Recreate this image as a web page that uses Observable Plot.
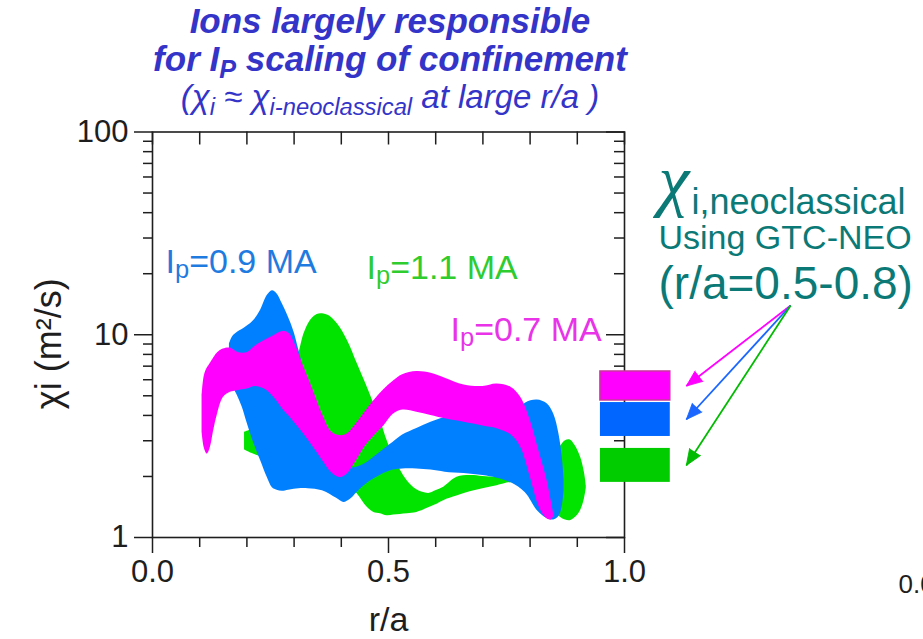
<!DOCTYPE html>
<html>
<head>
<meta charset="utf-8">
<script src="https://cdn.jsdelivr.net/npm/d3@7"></script>
<script src="https://cdn.jsdelivr.net/npm/@observablehq/plot@0.6"></script>
<style>
  html, body { margin: 0; padding: 0; background: #fff; overflow: hidden; width: 923px; height: 639px; }
  #wrap { position: relative; width: 923px; height: 639px; }
  .t { position: absolute; left: 0; width: 780px; text-align: center; font-family: "Liberation Sans", Arial, sans-serif;
       color: #3434c8; font-style: italic; line-height: 1; white-space: nowrap; }
  .t sub { vertical-align: baseline; position: relative; top: 0.28em; font-size: 72%; line-height: 0; }
  #t1 { top: 3px; font-size: 35px; font-weight: bold; }
  #t2 { top: 41px; font-size: 35px; font-weight: bold; }
  #t3 { top: 80px; font-size: 33px; font-weight: normal; }
</style>
</head>
<body>
<div id="wrap">
  <div class="t" id="t1">Ions largely responsible</div>
  <div class="t" id="t2">for I<sub>P</sub> scaling of confinement</div>
  <div class="t" id="t3">(χ<sub>i</sub> ≈ χ<sub>i-neoclassical</sub> at large r/a )</div>
</div>
<script>
// ---------------- data ----------------
// Ip = 0.7 MA (magenta band): r/a, lower and upper chi_i (m^2/s)
const magentaX  = [0.105,0.110,0.116,0.122,0.130,0.137,0.150,0.165,0.180,0.200,0.218,0.236,0.257,0.278,0.290,0.300,0.320,0.340,0.360,0.380,0.398,0.413,0.430,0.450,0.470,0.490,0.510,0.530,0.560,0.590,0.620,0.660,0.700,0.730,0.760,0.780,0.800,0.820,0.835,0.845,0.850];
const magentaHi = [5.0,6.3,6.85,7.2,7.7,8.1,8.5,8.6,8.2,8.15,8.8,9.35,9.9,10.4,10.1,9.2,7.0,5.35,4.05,3.3,3.18,3.25,3.6,4.15,4.75,5.35,5.9,6.35,6.58,6.45,6.1,5.65,5.56,5.72,5.5,4.92,3.8,2.6,1.95,1.5,1.3];
const magentaLo = [3.3,2.75,2.58,2.75,3.4,4.0,4.9,5.2,5.3,5.4,5.56,5.41,4.92,4.23,3.95,3.7,3.25,2.8,2.4,2.08,1.97,2.06,2.35,2.8,3.18,3.55,4.05,4.25,4.15,4.0,3.85,3.7,3.55,3.44,3.2,2.79,2.0,1.40,1.24,1.22,1.27];

// Ip = 0.9 MA (blue band)
const blueX  = [0.163,0.170,0.180,0.190,0.200,0.215,0.229,0.243,0.254,0.264,0.275,0.288,0.300,0.310,0.330,0.360,0.390,0.405,0.420,0.440,0.460,0.483,0.510,0.530,0.560,0.590,0.620,0.660,0.700,0.730,0.760,0.790,0.815,0.836,0.850,0.861,0.868,0.872];
const blueHi = [9.0,9.8,10.3,10.6,11.0,11.8,13.2,15.6,16.5,15.9,14.2,12.2,10.3,8.4,5.6,3.6,2.5,2.25,2.2,2.25,2.4,2.64,2.95,3.2,3.45,3.7,3.9,3.85,3.65,3.5,3.9,4.6,4.77,4.57,4.07,3.25,2.5,1.95];
const blueLo = [7.0,5.6,5.0,4.4,3.7,2.9,2.4,1.98,1.76,1.71,1.69,1.71,1.73,1.74,1.74,1.70,1.56,1.49,1.55,1.73,1.89,2.03,2.15,2.18,2.18,2.15,2.10,2.07,2.02,1.96,1.86,1.66,1.36,1.24,1.22,1.27,1.42,1.70];

// Ip = 1.1 MA (green band)
const greenX  = [0.195,0.210,0.230,0.250,0.280,0.300,0.312,0.321,0.335,0.349,0.360,0.374,0.392,0.413,0.434,0.455,0.469,0.483,0.497,0.511,0.525,0.540,0.560,0.585,0.600,0.617,0.645,0.673,0.700,0.730,0.765,0.800,0.830,0.850,0.864,0.875,0.885,0.895,0.907,0.915,0.919];
const greenHi = [3.3,3.4,3.5,3.8,5.0,6.8,8.4,10.1,11.8,12.6,12.7,12.4,11.3,9.37,7.19,5.51,4.57,3.78,3.01,2.5,2.15,1.9,1.72,1.65,1.7,1.77,1.98,2.02,2.0,1.98,1.95,1.95,2.1,2.4,2.8,3.0,3.03,2.85,2.49,2.1,1.8];
const greenLo = [2.7,2.6,2.5,2.45,2.35,2.3,2.27,2.25,2.2,2.15,2.1,2.05,1.98,1.85,1.64,1.41,1.33,1.31,1.28,1.29,1.30,1.31,1.33,1.40,1.45,1.52,1.60,1.68,1.74,1.80,1.87,1.80,1.55,1.35,1.26,1.22,1.21,1.25,1.36,1.55,1.75];

// neoclassical chi_i (GTC-NEO, r/a = 0.5-0.8) ranges
const neoSeries = ["0.7 MA", "0.9 MA", "1.1 MA"];
const neoLo = [4.74, 3.15, 1.87];
const neoHi = [6.59, 4.63, 2.75];

// axis ticks
const xMajor = [0, 0.5, 1.0];
const xMinor = [0.1, 0.2, 0.3, 0.4, 0.6, 0.7, 0.8, 0.9];
const yMajor = [1, 10, 100];
const yMinor = [2, 3, 4, 5, 6, 7, 8, 9, 20, 30, 40, 50, 60, 70, 80, 90];

// ---------------- styles ----------------
const bandColor = {"0.7 MA": "#ff00ff", "0.9 MA": "#0080ff", "1.1 MA": "#00e400"};
const boxColor  = {"0.7 MA": "#ff00ff", "0.9 MA": "#0066ff", "1.1 MA": "#00cc00"};
const arrowColor = {"0.7 MA": "#ff00ff", "0.9 MA": "#1a66ff", "1.1 MA": "#00bb00"};
const teal = "#0b7a77";
const axisColor = "#1e1e1e";
const font = '"Liberation Sans", Arial, sans-serif';

const W = 923, H = 639, mL = 152, mR = 299, mT = 131.5, mB = 102;
const FW = W - mL - mR, FH = H - mT - mB;

// annotation arrow geometry (in the chart's own x / y units, outside the frame)
const arrowFrom = {x: 1.352, y: 13.94};
const arrowToX = 1.131;
const boxX = [0.949, 1.097];

const band = (xs, lo, hi) => xs.map((x, i) => ({x, lo: lo[i], hi: hi[i]}));
const magenta = band(magentaX, magentaLo, magentaHi);
const blue = band(blueX, blueLo, blueHi);
const green = band(greenX, greenLo, greenHi);
const neo = neoSeries.map((s, i) => ({s, lo: neoLo[i], hi: neoHi[i], yc: Math.sqrt(neoLo[i] * neoHi[i])}));

const label = (txt, opts) => Plot.text([txt], {text: d => d, textAnchor: "start", lineAnchor: "bottom", ...opts});

const baseOptions = {
  width: W, height: H,
  marginLeft: mL, marginRight: mR, marginTop: mT, marginBottom: mB,
  style: {fontFamily: font, background: "transparent", overflow: "visible", color: axisColor},
  x: {domain: [0, 1], axis: null},
  y: {type: "log", domain: [1, 100], axis: null},
  color: {type: "identity"}
};

// first pass: only to obtain the scales for arrow-head angles
const probe = Plot.plot({...baseOptions, marks: [Plot.frame()]});
const sx = probe.scale("x"), sy = probe.scale("y");
const px0 = sx.apply(arrowFrom.x), py0 = sy.apply(arrowFrom.y);
neo.forEach(d => {
  const dxp = sx.apply(arrowToX) - px0, dyp = sy.apply(d.yc) - py0;
  d.angle = Math.atan2(dxp, -dyp) * 180 / Math.PI;
});

const headLen = 16;

const plot = Plot.plot({
  ...baseOptions,
  marks: [
    Plot.areaY(green,   {x: "x", y1: "lo", y2: "hi", fill: bandColor["1.1 MA"], curve: "catmull-rom"}),
    Plot.areaY(blue,    {x: "x", y1: "lo", y2: "hi", fill: bandColor["0.9 MA"], curve: "catmull-rom"}),
    Plot.areaY(magenta, {x: "x", y1: "lo", y2: "hi", fill: bandColor["0.7 MA"], curve: "catmull-rom"}),
    Plot.frame({stroke: axisColor, strokeWidth: 1.6}),
    // bottom axis
    Plot.axisX({ticks: xMajor, tickSize: 16, tickPadding: 6, tickFormat: d => d.toFixed(1), fontSize: 31, strokeWidth: 1.5, label: null}),
    Plot.tickX(xMinor, {x: d => d, insetTop: FH, insetBottom: -10, stroke: axisColor, strokeWidth: 1.5}),
    // top ticks (inward)
    Plot.tickX(xMajor.concat(xMinor), {x: d => d, insetBottom: FH - 13, stroke: axisColor, strokeWidth: 1.5}),
    // left axis
    Plot.axisY({ticks: yMajor, tickSize: 18, tickPadding: 6, tickFormat: d => String(d), fontSize: 31, strokeWidth: 1.5, label: null}),
    Plot.tickY(yMinor, {y: d => d, insetLeft: -9, insetRight: FW, stroke: axisColor, strokeWidth: 1.5}),
    // right ticks (inward)
    Plot.tickY(yMajor, {y: d => d, insetLeft: FW - 18, stroke: axisColor, strokeWidth: 1.5}),
    Plot.tickY(yMinor, {y: d => d, insetLeft: FW - 10, stroke: axisColor, strokeWidth: 1.5}),
    // axis titles
    Plot.text(["χi (m²/s)"], {text: d => d, frameAnchor: "left", textAnchor: "middle", lineAnchor: "middle",
                              dx: -103, dy: 9, rotate: -90, fontSize: 36, fill: axisColor}),
    Plot.text(["r/a"], {text: d => d, frameAnchor: "bottom", textAnchor: "middle", dy: 93, lineAnchor: "bottom", fontSize: 34, fill: axisColor}),
    // series labels
    label("I_p=0.9 MA", {frameAnchor: "top-left", dx: 13, dy: 140.5, fontSize: 34, fill: "#1f7be0"}),
    label("I_p=1.1 MA", {frameAnchor: "top-left", dx: 214, dy: 146.5, fontSize: 34, fill: "#2fcc2f"}),
    label("I_p=0.7 MA", {frameAnchor: "top-left", dx: 298, dy: 208.5, fontSize: 34, fill: "#e833e8"}),
    // neoclassical boxes
    Plot.rect(neo, {x1: boxX[0], x2: boxX[1], y1: "lo", y2: "hi", fill: d => boxColor[d.s],
                    stroke: d => d.s === "0.7 MA" ? "#c8379e" : "none", strokeWidth: 1.5}),
    // arrows: shaft + filled head
    Plot.link(neo, {x1: arrowFrom.x, y1: arrowFrom.y, x2: arrowToX, y2: "yc",
                    stroke: d => arrowColor[d.s], strokeWidth: 1.8}),
    Plot.vector(neo, {x: arrowToX, y: "yc", rotate: "angle", length: headLen, anchor: "end", shape: "spike", r: 6.5,
                      fill: d => arrowColor[d.s], stroke: d => arrowColor[d.s], strokeWidth: 0.8, fillOpacity: 1}),
    // annotation text
    label("χ", {frameAnchor: "top-right", dx: 34, dy: 71, fontSize: 70, fontStyle: "italic",
                fontFamily: '"Liberation Serif", serif', fill: teal}),
    label("i,neoclassical", {frameAnchor: "top-right", dx: 67, dy: 81.5, fontSize: 36, fill: teal}),
    label("Using GTC-NEO", {frameAnchor: "top-right", dx: 34, dy: 116.5, fontSize: 34, fill: teal}),
    label("(r/a=0.5-0.8)", {frameAnchor: "top-right", dx: 34, dy: 166.5, fontSize: 46, fill: teal}),
    label("0.0", {frameAnchor: "bottom-right", dx: 274, dy: 55, fontSize: 26, fill: axisColor})
  ]
});

// subscripts inside series labels
const rich = {
  "I_p=0.9 MA": 'I<tspan dy="5" font-size="75%">p</tspan><tspan dy="-5">=0.9 MA</tspan>',
  "I_p=1.1 MA": 'I<tspan dy="5" font-size="75%">p</tspan><tspan dy="-5">=1.1 MA</tspan>',
  "I_p=0.7 MA": 'I<tspan dy="5" font-size="75%">p</tspan><tspan dy="-5">=0.7 MA</tspan>'
};
d3.select(plot).selectAll("text").each(function () {
  const h = rich[this.textContent];
  if (h) this.innerHTML = h;
});

document.getElementById("wrap").prepend(plot);
</script>
</body>
</html>
